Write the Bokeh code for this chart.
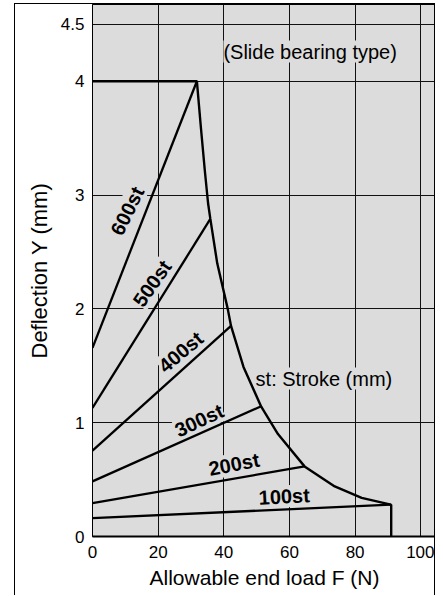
from bokeh.plotting import figure
from bokeh.models import Range1d, FixedTicker, Label
from bokeh.embed import file_html
from bokeh.resources import INLINE

# ---- data ----
x_ticks = [0, 20, 40, 60, 80, 100]
y_ticks = [0, 1, 2, 3, 4, 4.5]
y_tick_labels = ["0", "1", "2", "3", "4", "4.5"]

# allowable envelope (upper boundary)
envelope_x = [0, 31.8, 33.0, 34.2, 35.2, 35.9, 38.0, 41.2, 42.2, 46.0, 51.4, 56.5, 64.6, 73.8, 82.0, 90.9, 91.0, 91.0]
envelope_y = [4.0, 4.0, 3.60, 3.22, 2.93, 2.79, 2.40, 2.00, 1.85, 1.49, 1.14, 0.90, 0.616, 0.44, 0.34, 0.28, 0.28, 0.0]

# stroke lines: deflection at F=0 and end point on the envelope
strokes = ["600st", "500st", "400st", "300st", "200st", "100st"]
stroke_y0 = [1.658, 1.129, 0.754, 0.484, 0.293, 0.161]
stroke_x1 = [31.8, 35.9, 42.2, 51.4, 64.6, 90.9]
stroke_y1 = [4.0, 2.79, 1.85, 1.144, 0.616, 0.28]

BG = "#dcdcdc"

p = figure(width=421, height=592,
           x_range=Range1d(0, 104.8), y_range=Range1d(0, 4.674),
           output_backend="svg", toolbar_location=None,
           min_border_left=77, min_border_right=0,
           min_border_top=0, min_border_bottom=60)
p.styles = {"margin-left": "14px", "margin-top": "3px",
            "border-left": "1px solid black", "border-top": "1px solid black",
            "border-right": "1px solid black"}

p.background_fill_color = BG
p.border_fill_color = "white"
p.outline_line_color = "black"
p.outline_line_width = 1

p.xaxis.ticker = FixedTicker(ticks=x_ticks)
p.yaxis.ticker = FixedTicker(ticks=y_ticks)
p.yaxis.major_label_overrides = {t: s for t, s in zip(y_ticks, y_tick_labels)}

for ax in (p.xaxis, p.yaxis):
    ax.major_tick_line_color = None
    ax.minor_tick_line_color = None
    ax.major_label_text_font = "Liberation Sans"
    ax.major_label_text_font_size = "17px"
    ax.major_label_text_color = "black"
    ax.axis_label_text_font = "Liberation Sans"
    ax.axis_label_text_font_style = "normal"
    ax.axis_label_text_color = "black"
    ax.axis_line_color = "black"

p.xaxis.axis_label_text_font_size = "21px"
p.yaxis.axis_label_text_font_size = "22px"
p.xaxis.axis_line_width = 2
p.yaxis.axis_line_width = 1
p.xaxis.major_label_standoff = 3
p.yaxis.major_label_standoff = 2
p.xaxis.axis_label = "Allowable end load F (N)"
p.yaxis.axis_label = "Deflection Y (mm)"
p.xaxis.axis_label_standoff = 5
p.yaxis.axis_label_standoff = 6

for g in (p.xgrid, p.ygrid):
    g.grid_line_color = "#111111"
    g.grid_line_width = 1
    g.grid_line_alpha = 1.0

# envelope and stroke lines
p.line(envelope_x, envelope_y, line_color="black", line_width=2.4)
for y0, x1, y1 in zip(stroke_y0, stroke_x1, stroke_y1):
    p.line([0, x1], [y0, y1], line_color="black", line_width=2.3)

# stroke labels (bold, rotated along lines)
lab_pos = {"600st": (10.6, 2.861, 64), "500st": (18.2, 2.223, 55),
           "400st": (26.9, 1.62, 40), "300st": (32.5, 1.019, 25),
           "200st": (43.1, 0.634, 11), "100st": (58.4, 0.352, 3)}
for s in strokes:
    x, y, a = lab_pos[s]
    lb = Label(x=x, y=y, text=s, angle=a, angle_units="deg",
               text_font="Liberation Sans", text_font_size="20px",
               text_font_style="bold", text_color="black",
               text_align="center", text_baseline="middle",
               background_fill_color=BG, level="underlay")
    p.add_layout(lb)

for txt, x, y in [("(Slide bearing type)", 66.3, 4.26), ("st: Stroke (mm)", 70.5, 1.388)]:
    lb = Label(x=x, y=y, text=txt, text_font="Liberation Sans",
               text_font_size="20px", text_color="black",
               text_align="center", text_baseline="middle",
               background_fill_color=BG, level="underlay")
    p.add_layout(lb)

open("out.html", "w").write(file_html(p, INLINE))
